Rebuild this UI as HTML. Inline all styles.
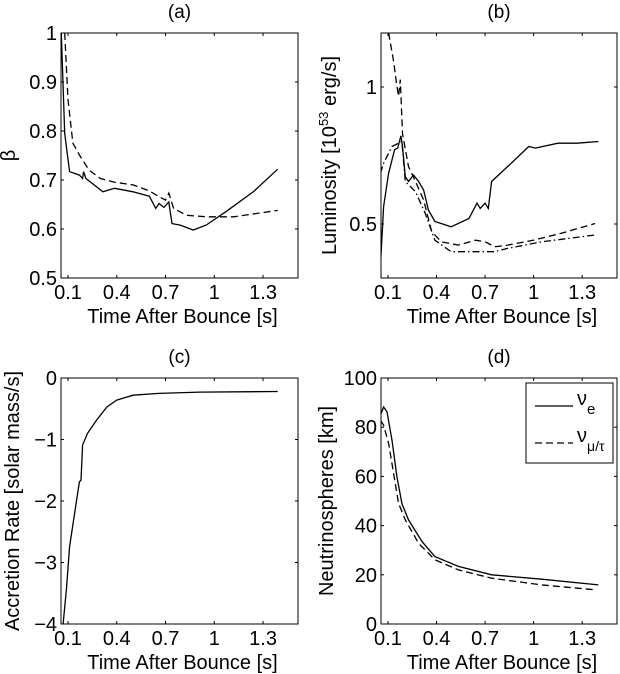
<!DOCTYPE html>
<html><head><meta charset="utf-8">
<style>
body{margin:0;background:#fff;}
svg{display:block;font-family:"Liberation Sans",Arial,sans-serif;}
text{fill:#000;}
</style></head>
<body>
<svg id="fig" width="620" height="674" viewBox="0 0 620 674"></svg>
<script>
// Panel (a) beta data
const aTimeSolid=[0.059,0.08,0.11,0.17,0.19,0.196,0.21,0.315,0.387,0.5,0.6,0.64,0.66,0.69,0.72,0.74,0.79,0.87,0.95,1.07,1.24,1.39];
const aBetaSolid=[1.0,0.795,0.717,0.71,0.703,0.717,0.703,0.676,0.683,0.676,0.667,0.642,0.652,0.644,0.655,0.611,0.608,0.598,0.608,0.635,0.676,0.722];
const aTimeDash=[0.08,0.1,0.13,0.17,0.23,0.3,0.38,0.5,0.6,0.66,0.7,0.72,0.75,0.83,0.95,1.12,1.39];
const aBetaDash=[1.0,0.864,0.775,0.751,0.72,0.703,0.696,0.69,0.678,0.666,0.659,0.673,0.642,0.628,0.625,0.625,0.638];
// Panel (b) luminosity
const bTimeSolid=[0.053,0.073,0.104,0.141,0.16,0.18,0.19,0.207,0.227,0.258,0.289,0.32,0.35,0.39,0.49,0.6,0.65,0.67,0.7,0.72,0.74,0.84,0.97,1.01,1.15,1.27,1.4];
const bLumSolid=[0.344,0.563,0.685,0.771,0.777,0.822,0.783,0.673,0.655,0.679,0.655,0.624,0.551,0.509,0.49,0.52,0.576,0.557,0.576,0.557,0.655,0.71,0.783,0.777,0.795,0.795,0.801];
const bTimeDash=[0.104,0.135,0.155,0.166,0.176,0.19,0.227,0.27,0.32,0.37,0.43,0.535,0.64,0.7,0.76,0.84,1.0,1.17,1.38];
const bLumDash=[1.198,1.094,1.002,0.966,1.027,0.83,0.71,0.655,0.588,0.472,0.435,0.423,0.441,0.435,0.417,0.423,0.441,0.466,0.502];
const bTimeDot=[0.053,0.073,0.125,0.166,0.186,0.207,0.27,0.33,0.39,0.49,0.6,0.76,0.84,1.05,1.38];
const bLumDot=[0.685,0.722,0.783,0.795,0.801,0.655,0.618,0.539,0.441,0.399,0.399,0.399,0.411,0.435,0.46];
// Panel (c) accretion
const cTime=[0.07,0.09,0.11,0.15,0.17,0.18,0.19,0.22,0.275,0.34,0.4,0.5,0.66,0.91,1.39];
const cRate=[-4,-3.44,-2.74,-2.04,-1.69,-1.66,-1.09,-0.9,-0.69,-0.47,-0.36,-0.28,-0.25,-0.23,-0.22];
// Panel (d) neutrinospheres
const dTimeE=[0.053,0.073,0.094,0.125,0.155,0.186,0.227,0.31,0.39,0.535,0.74,1.05,1.4];
const dRadE=[84.9,88.2,86.2,74.7,59.9,49,42.3,33.5,27.4,23.4,20,18.2,15.9];
const dTimeMu=[0.053,0.073,0.104,0.135,0.166,0.207,0.289,0.39,0.535,0.74,1.05,1.38];
const dRadMu=[82.8,80.8,73.4,61.2,49,42.3,32.8,26.1,22,18.6,15.9,13.9];
// Ticks
const xTicks=[0.1,0.4,0.7,1,1.3];
const xTickLabels=["0.1","0.4","0.7","1","1.3"];
const aYTicks=[0.5,0.6,0.7,0.8,0.9,1];
const aYTickLabels=["0.5","0.6","0.7","0.8","0.9","1"];
const bYTicks=[0.5,1];
const bYTickLabels=["0.5","1"];
const cYTicks=[-4,-3,-2,-1,0];
const cYTickLabels=["\u22124","\u22123","\u22122","\u22121","0"];
const dYTicks=[0,20,40,60,80,100];
const dYTickLabels=["0","20","40","60","80","100"];

const NS="http://www.w3.org/2000/svg";
const svg=document.getElementById('fig');
function mk(tag,attrs,parent){const e=document.createElementNS(NS,tag);for(const k in attrs)e.setAttribute(k,attrs[k]);(parent||svg).appendChild(e);return e;}
const XMIN=0.057,XMAX=1.515;

function panel(o){
  const g=mk('g',{});
  
  
  const sx=t=>o.L+(t-XMIN)/(XMAX-XMIN)*(o.R-o.L);
  const sy=v=>o.B-(v-o.ymin)/(o.ymax-o.ymin)*(o.B-o.T);
  const fr=mk('rect',{x:o.L,y:o.T,width:o.R-o.L,height:o.B-o.T,fill:'none',stroke:'#000','stroke-width':1},g);
  
  
  xTicks.forEach((t,i)=>{
    const x=sx(t);
    mk('line',{x1:x,x2:x,y1:o.B,y2:o.B-3,stroke:'#000'},g);
    mk('line',{x1:x,x2:x,y1:o.T,y2:o.T+3,stroke:'#000'},g);
    const tx=mk('text',{x:x,y:o.B+21,'font-size':20,'text-anchor':'middle'},g);
    tx.textContent=xTickLabels[i];
    
    
  });
  o.yt.forEach((v,i)=>{
    const y=sy(v);
    mk('line',{x1:o.L,x2:o.L+3,y1:y,y2:y,stroke:'#000'},g);
    mk('line',{x1:o.R,x2:o.R-3,y1:y,y2:y,stroke:'#000'},g);
    const tx=mk('text',{x:o.L-4,y:y+7,'font-size':20,'text-anchor':'end'},g);
    tx.textContent=o.ytl[i];
    
    
  });
  const xl=mk('text',{x:(o.L+o.R)/2+3,y:o.B+45,'font-size':20,'text-anchor':'middle'},g);
  xl.textContent='Time After Bounce [s]';
  
  
  const ti=mk('text',{x:(o.L+o.R)/2,y:o.T-15,'font-size':19,'text-anchor':'middle'},g);
  ti.textContent=o.title;
  
  
  const yl=mk('text',{x:0,y:0,'font-size':20,'text-anchor':'middle',transform:`translate(${o.ylx},${(o.T+o.B)/2}) rotate(-90)`},g);
  yl.innerHTML=o.ylabel;
  
  
  const clipId='clip-'+o.name;
  const cp=mk('clipPath',{id:clipId},g);
  mk('rect',{x:o.L,y:o.T,width:o.R-o.L,height:o.B-o.T},cp);
  o.series.forEach(s=>{
    const d=s.t.map((t,i)=>(i?'L':'M')+sx(t).toFixed(1)+','+sy(s.v[i]).toFixed(1)).join(' ');
    const p=mk('path',{d:d,fill:'none',stroke:'#000','stroke-width':1.3,'clip-path':`url(#${clipId})`},g);
    if(s.dash)p.setAttribute('stroke-dasharray',s.dash);
    
    
  });
}

panel({name:'panel-a',title:'(a)',L:61,R:298,T:33,B:278,ymin:0.5,ymax:1,yt:aYTicks,ytl:aYTickLabels,ylx:15,ylabel:'\u03b2',
  series:[{t:aTimeSolid,v:aBetaSolid,name:'beta-solid-line'},{t:aTimeDash,v:aBetaDash,dash:'7,4',name:'beta-dashed-line'}]});
panel({name:'panel-b',title:'(b)',L:381,R:617,T:33,B:278,ymin:0.303,ymax:1.197,yt:bYTicks,ytl:bYTickLabels,ylx:336,
  ylabel:'Luminosity [10<tspan dy="-8" font-size="13">53</tspan><tspan dy="8"> erg/s]</tspan>',
  series:[{t:bTimeSolid,v:bLumSolid,name:'luminosity-solid-line'},{t:bTimeDash,v:bLumDash,dash:'7,4',name:'luminosity-dashed-line'},{t:bTimeDot,v:bLumDot,dash:'7,3,1.5,3',name:'luminosity-dashdot-line'}]});
panel({name:'panel-c',title:'(c)',L:61,R:298,T:378,B:624,ymin:-4,ymax:0,yt:cYTicks,ytl:cYTickLabels,ylx:19,ylabel:'Accretion Rate [solar mass/s]',
  series:[{t:cTime,v:cRate,name:'accretion-rate-line'}]});
panel({name:'panel-d',title:'(d)',L:381,R:617,T:378,B:624,ymin:0,ymax:100,yt:dYTicks,ytl:dYTickLabels,ylx:333,ylabel:'Neutrinospheres [km]',
  series:[{t:dTimeE,v:dRadE,name:'nu-e-line'},{t:dTimeMu,v:dRadMu,dash:'7,4',name:'nu-mu-tau-line'}]});

// legend
const lg=mk('g',{});


mk('rect',{x:526,y:383,width:87,height:80,fill:'#fff',stroke:'#000'},lg);
const l1=mk('line',{x1:535,x2:573,y1:406,y2:406,stroke:'#000','stroke-width':1.3},lg);


const t1=mk('text',{x:577,y:405,'font-size':20},lg);
t1.innerHTML='\u03bd<tspan dy="9" font-size="15">e</tspan>';
const l2=mk('line',{x1:535,x2:573,y1:443,y2:443,stroke:'#000','stroke-width':1.3,'stroke-dasharray':'7,4'},lg);


const t2=mk('text',{x:577,y:442,'font-size':20},lg);
t2.innerHTML='\u03bd<tspan dy="9" font-size="14">\u03bc/\u03c4</tspan>';
</script>
</body></html>
